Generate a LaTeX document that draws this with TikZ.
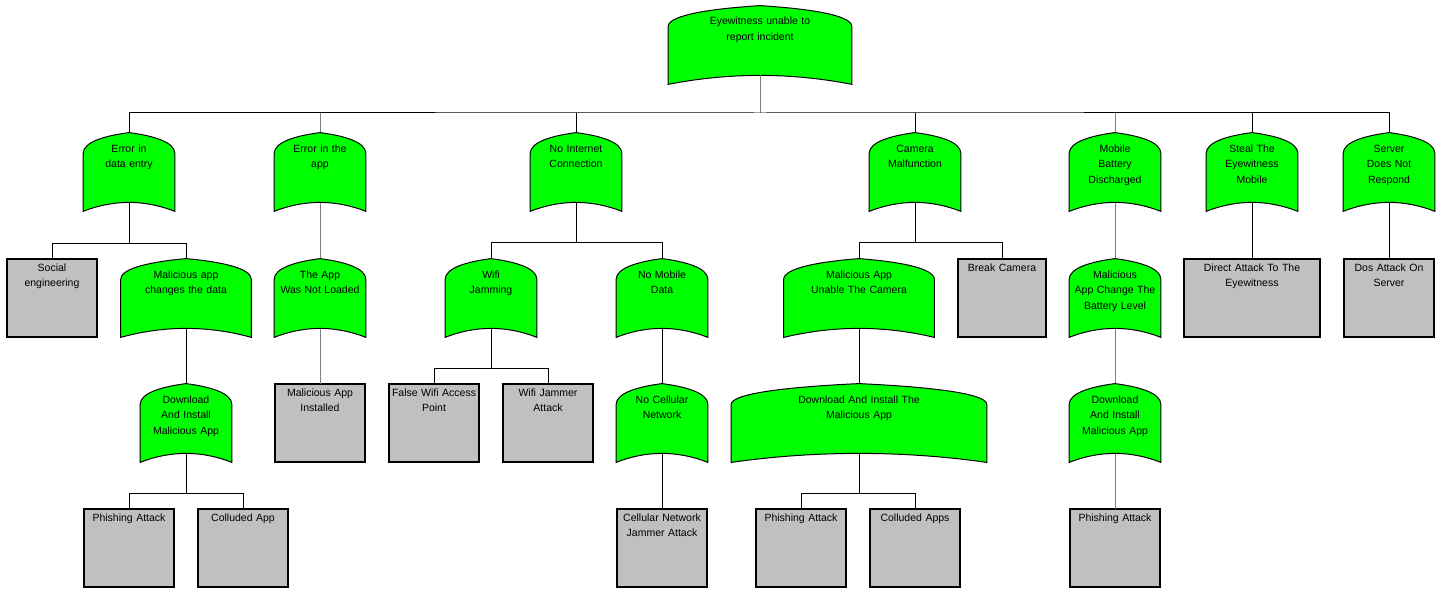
\documentclass[tikz,border=0pt]{standalone}
\usepackage{fontspec}
\setmainfont{Liberation Sans}
\usepackage{tikz}
\usetikzlibrary{calc}
\usepackage{xcolor}
\definecolor{gategreen}{HTML}{00FF00}
\definecolor{boxgray}{HTML}{C0C0C0}
\definecolor{linegray}{HTML}{808080}

\begin{document}
\begin{tikzpicture}[x=1pt, y=-1pt, font=\fontsize{10.5pt}{15.5pt}\selectfont,
  link/.style={draw=black, line width=1pt},
  glink/.style={draw=linegray, line width=1pt},
  gate/.style={text width=#1pt, align=center, inner sep=0pt, outer sep=0pt,
    text height=20pt, text depth=60pt, anchor=north,
    path picture={
      \coordinate (gsw) at ([shift={(0.6pt,0.6pt)}]path picture bounding box.south west);
      \coordinate (gse) at ([shift={(-0.6pt,0.6pt)}]path picture bounding box.south east);
      \coordinate (gnw) at ([shift={(0.6pt,-0.6pt)}]path picture bounding box.north west);
      \coordinate (gne) at ([shift={(-0.6pt,-0.6pt)}]path picture bounding box.north east);
      \coordinate (gn) at ([yshift=-0.6pt]path picture bounding box.north);
      \filldraw[fill=gategreen, draw=black, line width=1pt] (gsw) -- ([yshift=-21pt]gnw)
        .. controls ([yshift=-9pt]gnw) and ($(gn)!0.5!(gnw)+(0pt,-3pt)$) .. (gn)
        .. controls ($(gn)!0.5!(gne)+(0pt,-3pt)$) and ([yshift=-9pt]gne) .. ([yshift=-21pt]gne)
        -- (gse) .. controls ($(gse)!0.33!(gsw)+(0pt,12pt)$) and ($(gse)!0.67!(gsw)+(0pt,12pt)$) .. (gsw)
        -- cycle;
    }},
  gate/.default=93,
  basic/.style={draw, line width=2.2pt, fill=boxgray, text width=#1pt, align=center,
    inner sep=0pt, outer sep=0pt, text height=12pt, text depth=66pt, anchor=north},
  basic/.default=90]
  \useasboundingbox (0,0) rectangle (1442,599);

  % top event
  \node[gate=185] (root) at (760,5) {Eyewitness unable to\\report incident};

  % first level
  \node[gate] (dataentry) at (129,132) {Error in\\data entry};
  \node[gate] (app) at (320,132) {Error in the\\app};
  \node[gate] (internet) at (576,132) {No Internet\\Connection};
  \node[gate] (camera) at (915,132) {Camera\\Malfunction};
  \node[gate] (battery) at (1115,132) {Mobile\\Battery\\Discharged};
  \node[gate] (steal) at (1252,132) {Steal The\\Eyewitness\\Mobile};
  \node[gate] (server) at (1389,132) {Server\\Does Not\\Respond};

  % second level
  \node[basic] (social) at (52,259) {Social\\engineering};
  \node[gate=132] (maldata) at (186,258) {Malicious app\\changes the data};
  \node[gate] (notloaded) at (320,258) {The App\\Was Not Loaded};
  \node[gate] (wifi) at (491,258) {Wifi\\Jamming};
  \node[gate] (nodata) at (662,258) {No Mobile\\Data};
  \node[gate=152] (unable) at (859,258) {Malicious App\\Unable The Camera};
  \node[basic=88] (breakcam) at (1002,259) {Break Camera};
  \node[gate] (batlevel) at (1115,258) {Malicious\\App Change The\\Battery Level};
  \node[basic=136] (direct) at (1252,259) {Direct Attack To The\\Eyewitness};
  \node[basic] (dos) at (1389,259) {Dos Attack On\\Server};

  % third level
  \node[gate] (download1) at (186,383) {Download\\And Install\\Malicious App};
  \node[basic] (installed) at (320,384) {Malicious App\\Installed};
  \node[basic] (falsewifi) at (434,384) {False Wifi Access\\Point};
  \node[basic] (jammer) at (548,384) {Wifi Jammer\\Attack};
  \node[gate] (cellnet) at (662,383) {No Cellular\\Network};
  \node[gate=257] (download2) at (859,383) {Download And Install The\\Malicious App};
  \node[gate] (download3) at (1115,383) {Download\\And Install\\Malicious App};

  % basic events at the bottom
  \node[basic] (phish1) at (129,509) {Phishing Attack};
  \node[basic] (colluded1) at (243,509) {Colluded App};
  \node[basic] (cellular) at (662,509) {Cellular Network\\Jammer Attack};
  \node[basic] (phish2) at (801,509) {Phishing Attack};
  \node[basic] (colluded2) at (915,509) {Colluded Apps};
  \node[basic] (phish3) at (1115,509) {Phishing Attack};

  % connectors
  \coordinate (b-root) at (760,113);
  \draw[glink] ([yshift=9.5pt]root.south) -- (b-root);
  \draw[link] (dataentry.north) |- (b-root) -| (server.north);
  \foreach \c in {internet,camera,steal}
    \draw[link] (\c.north) -- (\c.north |- b-root);
  \foreach \c in {app,battery}
    \draw[glink] (\c.north) -- (\c.north |- b-root);

  \foreach \p/\l/\r in {dataentry/social/maldata, internet/wifi/nodata, camera/unable/breakcam,
      wifi/falsewifi/jammer, download1/phish1/colluded1, download2/phish2/colluded2} {
    \draw[link] ([yshift=9.5pt]\p.south) -- ($(\l.north -| \p.south)+(0,-16)$);
    \draw[link] (\l.north) -- ++(0,-16) -| (\r.north);
  }

  % single chains
  \draw[link] ([yshift=9.5pt]maldata.south) -- (download1.north);
  \draw[link] ([yshift=9.5pt]steal.south) -- (direct.north);
  \draw[link] ([yshift=9.5pt]server.south) -- (dos.north);
  \draw[link] ([yshift=9.5pt]nodata.south) -- (cellnet.north);
  \draw[link] ([yshift=9.5pt]cellnet.south) -- (cellular.north);
  \draw[link] ([yshift=9.5pt]unable.south) -- (download2.north);
  \draw[glink] ([yshift=9.5pt]app.south) -- (notloaded.north);
  \draw[glink] ([yshift=9.5pt]notloaded.south) -- (installed.north);
  \draw[glink] ([yshift=9.5pt]battery.south) -- (batlevel.north);
  \draw[glink] ([yshift=9.5pt]batlevel.south) -- (download3.north);
  \draw[glink] ([yshift=9.5pt]download3.south) -- (phish3.north);
\end{tikzpicture}
\end{document}
